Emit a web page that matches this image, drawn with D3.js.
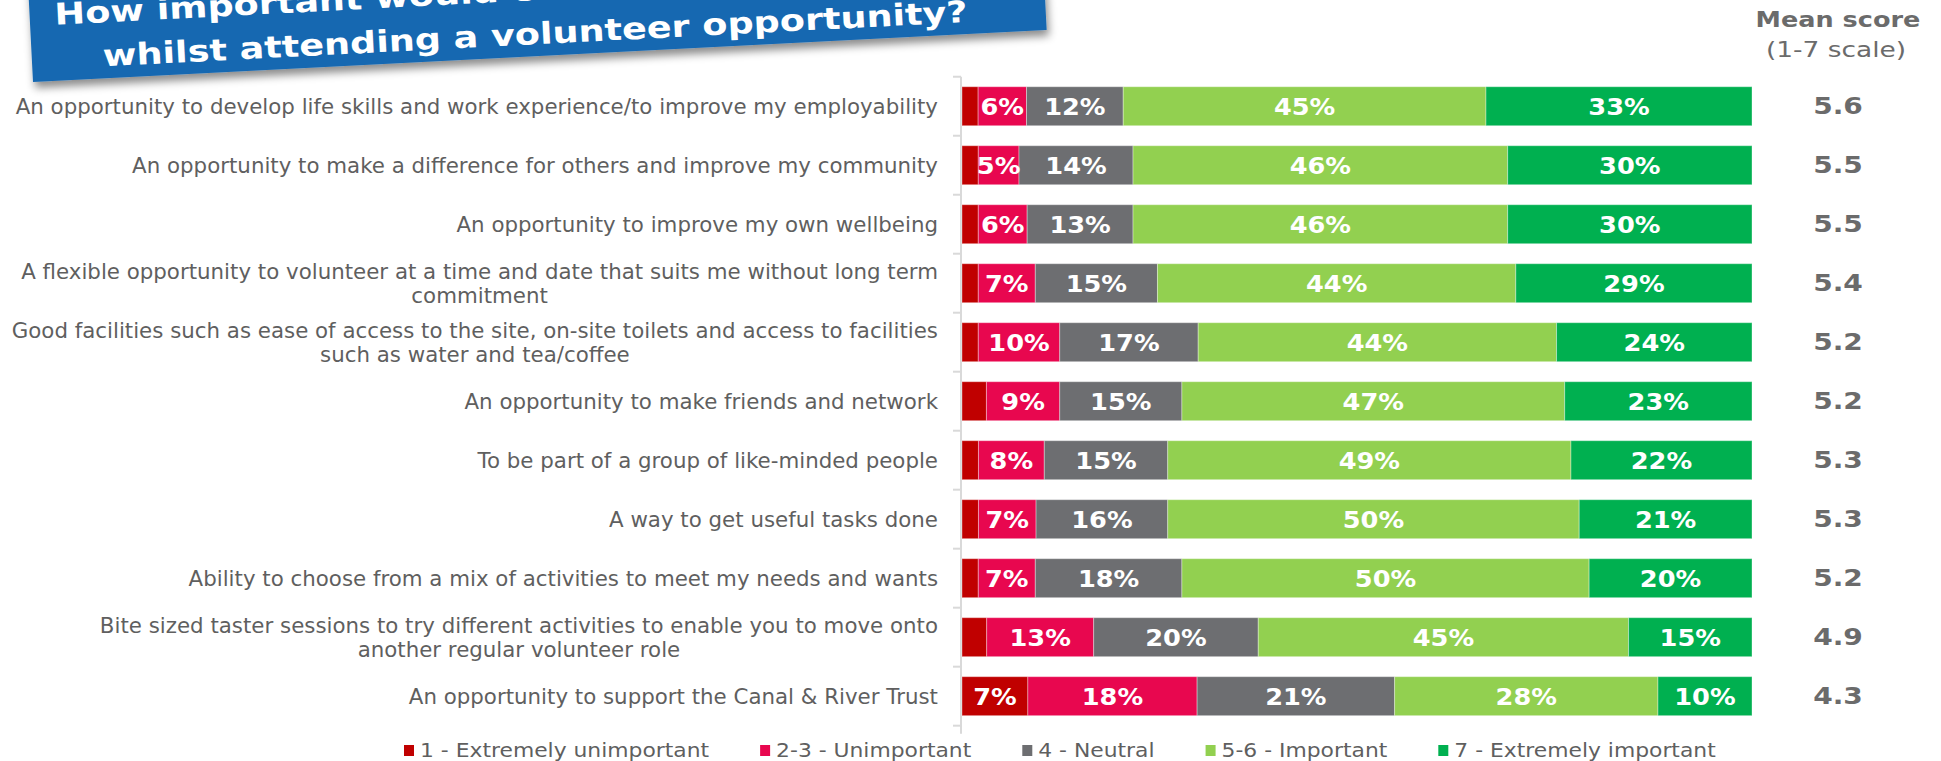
<!DOCTYPE html>
<html>
<head>
<meta charset="utf-8">
<script src="https://cdn.jsdelivr.net/npm/d3@7"></script>
<style>
  html, body { margin: 0; padding: 0; background: #ffffff; }
  svg { display: block; }
  text { font-family: "DejaVu Sans", Verdana, sans-serif; }
</style>
</head>
<body>
<svg id="chart" width="1941" height="761"></svg>
<script>
// ---- Data ----
const categories = [
  "An opportunity to develop life skills and work experience/to improve my employability",
  "An opportunity to make a difference for others and improve my community",
  "An opportunity to improve my own wellbeing",
  "A flexible opportunity to volunteer at a time and date that suits me without long term\ncommitment",
  "Good facilities such as ease of access to the site, on-site toilets and access to facilities\nsuch as water and tea/coffee",
  "An opportunity to make friends and network",
  "To be part of a group of like-minded people",
  "A way to get useful tasks done",
  "Ability to choose from a mix of activities to meet my needs and wants",
  "Bite sized taster sessions to try different activities to enable you to move onto\nanother regular volunteer role",
  "An opportunity to support the Canal & River Trust"
];

const seriesNames = [
  "1 - Extremely unimportant",
  "2-3 - Unimportant",
  "4 - Neutral",
  "5-6 - Important",
  "7 - Extremely important"
];
const seriesColors = ["#c00000", "#e8074f", "#6d6e71", "#92d050", "#00b050"];

const extremelyUnimportant = [2, 2, 2, 2, 2, 3, 2, 2, 2, 3, 7];
const unimportant          = [6, 5, 6, 7, 10, 9, 8, 7, 7, 13, 18];
const neutral              = [12, 14, 13, 15, 17, 15, 15, 16, 18, 20, 21];
const important            = [45, 46, 46, 44, 44, 47, 49, 50, 50, 45, 28];
const extremelyImportant   = [33, 30, 30, 29, 24, 23, 22, 21, 20, 15, 10];

const meanScores = [5.6, 5.5, 5.5, 5.4, 5.2, 5.2, 5.3, 5.3, 5.2, 4.9, 4.3];

const titleLines = [
  "How important would each of the following be to you",
  "whilst attending a volunteer opportunity?"
];
const meanHeader = ["Mean score", "(1-7 scale)"];

// ---- Helpers ----
// Widen/narrow a text run horizontally by factor k while keeping its font size.
function stretch(sel, k) {
  sel.each(function () {
    const w = this.getComputedTextLength();
    if (w > 0) d3.select(this).attr("textLength", w * k).attr("lengthAdjust", "spacingAndGlyphs");
  });
}

const svg = d3.select("#chart");
const series = [extremelyUnimportant, unimportant, neutral, important, extremelyImportant];

// Each row normalised to 100% of the bar length
const rows = categories.map((c, i) => {
  const vals = series.map(s => s[i]);
  const total = d3.sum(vals);
  let acc = 0;
  const segs = vals.map((v, j) => {
    const s = { cat: c, key: j, value: v, x0: acc / total, x1: (acc + v) / total };
    acc += v;
    return s;
  });
  return { cat: c, segs, mean: meanScores[i] };
});

// ---- Scales ----
const y = d3.scaleBand()
  .domain(categories)
  .range([76.7, 725.7])
  .paddingInner(0.339)
  .paddingOuter(0.17);

const x = d3.scaleLinear().domain([0, 1]).range([962, 1752]);
const meanX = 1836;

// ---- Category axis (line with ticks between bands) ----
const axisG = svg.append("g").attr("class", "cat-axis");
axisG.append("line")
  .attr("x1", 961).attr("x2", 961)
  .attr("y1", y.range()[0]).attr("y2", y.range()[1] + 8)
  .attr("stroke", "#d9d9d9").attr("stroke-width", 2);
const boundaries = categories.map(c => y(c) - y.step() * y.paddingInner() / 2)
  .concat([y(categories[categories.length - 1]) + y.bandwidth() + y.step() * y.paddingInner() / 2]);
axisG.selectAll("line.tick").data(boundaries).join("line")
  .attr("class", "tick")
  .attr("x1", 953).attr("x2", 961)
  .attr("y1", d => d).attr("y2", d => d)
  .attr("stroke", "#d9d9d9").attr("stroke-width", 2);

// ---- Category labels ----
const labelRight = 938;
const labelG = svg.append("g").attr("class", "cat-labels");
categories.forEach(c => {
  const lines = c.split("\n");
  const cy = y(c) + y.bandwidth() / 2;
  const lh = 24.5;
  const g = labelG.append("g");
  const texts = g.selectAll("text").data(lines).join("text")
    .attr("y", (d, i) => cy + (i - (lines.length - 1) / 2) * lh + 8)
    .attr("font-size", 22)
    .attr("fill", "#5f5f5f")
    .text(d => d);
  stretch(texts, 0.97);
  if (lines.length === 1) {
    texts.attr("x", labelRight).attr("text-anchor", "end");
  } else {
    let maxW = 0;
    texts.each(function () { maxW = Math.max(maxW, +d3.select(this).attr("textLength")); });
    texts.attr("x", labelRight - maxW / 2).attr("text-anchor", "middle");
  }
});

// ---- Bars ----
const barsG = svg.append("g").attr("class", "bars");
const rowG = barsG.selectAll("g.row").data(rows).join("g").attr("class", "row");
rowG.selectAll("rect").data(d => d.segs).join("rect")
  .attr("x", d => x(d.x0))
  .attr("width", d => x(d.x1) - x(d.x0))
  .attr("y", d => y(d.cat))
  .attr("height", y.bandwidth())
  .attr("fill", d => seriesColors[d.key])
  .attr("stroke", "#ffffff").attr("stroke-opacity", 0.35).attr("stroke-width", 1);

const valueLabels = rowG.selectAll("text.val").data(d => d.segs.filter(s => s.value >= 4)).join("text")
  .attr("class", "val")
  .attr("x", d => (x(d.x0) + x(d.x1)) / 2)
  .attr("y", d => y(d.cat) + y.bandwidth() / 2 + 8.5)
  .attr("text-anchor", "middle")
  .attr("font-size", 22.5)
  .attr("font-weight", "bold")
  .attr("fill", "#ffffff")
  .text(d => d.value + "%");
stretch(valueLabels, 1.14);

// ---- Mean score column ----
const hdr = svg.append("g").attr("class", "mean-header");
const h1 = hdr.append("text").attr("x", meanX + 2).attr("y", 27)
  .attr("text-anchor", "middle").attr("font-size", 22).attr("font-weight", "bold")
  .attr("fill", "#6b6b6b").text(meanHeader[0]);
const h2 = hdr.append("text").attr("x", meanX).attr("y", 57)
  .attr("text-anchor", "middle").attr("font-size", 22)
  .attr("fill", "#6b6b6b").text(meanHeader[1]);
stretch(h1, 1.16);
stretch(h2, 1.2);

const means = svg.append("g").attr("class", "means").selectAll("text").data(rows).join("text")
  .attr("x", meanX + 2)
  .attr("y", d => y(d.cat) + y.bandwidth() / 2 + 7.5)
  .attr("text-anchor", "middle")
  .attr("font-size", 23)
  .attr("font-weight", "bold")
  .attr("fill", "#6b6b6b")
  .text(d => d.mean.toFixed(1));
stretch(means, 1.22);

// ---- Legend ----
const legend = svg.append("g").attr("class", "legend");
let lx = 404;
seriesNames.forEach((name, i) => {
  legend.append("rect")
    .attr("x", lx).attr("y", 745).attr("width", 10).attr("height", 11)
    .attr("fill", seriesColors[i]);
  const t = legend.append("text")
    .attr("x", lx + 16).attr("y", 757)
    .attr("font-size", 19.5)
    .attr("fill", "#5f5f5f")
    .text(name);
  stretch(t, 1.12);
  lx = lx + 16 + (+t.attr("textLength")) + 51;
});

// ---- Title banner ----
const defs = svg.append("defs");
const shadow = defs.append("filter").attr("id", "bannerShadow")
  .attr("x", "-5%").attr("y", "-20%").attr("width", "110%").attr("height", "150%");
shadow.append("feDropShadow")
  .attr("dx", 2).attr("dy", 6).attr("stdDeviation", 4)
  .attr("flood-color", "#000000").attr("flood-opacity", 0.45);

const banner = svg.append("g").attr("class", "title")
  .attr("transform", "rotate(-2.94 33 82)");
banner.append("rect")
  .attr("x", 33).attr("y", -120).attr("width", 1015).attr("height", 202)
  .attr("fill", "#1667b1")
  .attr("filter", "url(#bannerShadow)");
const t1 = banner.append("text").attr("x", 58).attr("y", 26)
  .attr("font-size", 30).attr("font-weight", "bold").attr("fill", "#ffffff")
  .text(titleLines[0]);
const t2 = banner.append("text").attr("x", 104).attr("y", 70)
  .attr("font-size", 30).attr("font-weight", "bold").attr("fill", "#ffffff")
  .text(titleLines[1]);
stretch(t1, 1.22);
stretch(t2, 1.22);
</script>
</body>
</html>
